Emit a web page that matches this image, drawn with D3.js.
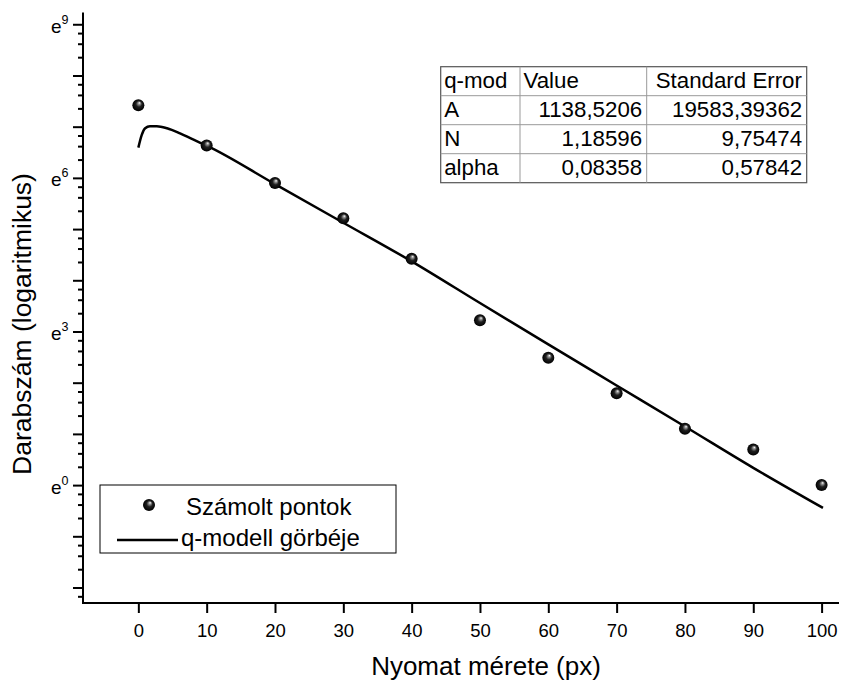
<!DOCTYPE html>
<html>
<head>
<meta charset="utf-8">
<script src="https://cdn.jsdelivr.net/npm/d3@7"></script>
<style>
  body { margin: 0; background: #fff; }
  text { font-family: "Liberation Sans", Arial, sans-serif; fill: #000; }
</style>
</head>
<body>
<svg id="chart" width="867" height="683"></svg>
<script>
// Measured particle counts per print size
const sizes = [0, 10, 20, 30, 40, 50, 60, 70, 80, 90, 100];
const counts = [1670, 760, 365, 183, 83, 25, 12, 6, 3, 2, 1];

// q-model fitted curve, sampled
const fitX = [0, 0.5, 1, 1.7, 2.7, 4.2, 6.1, 8, 10, 20, 30, 40, 50, 60, 70, 80, 90, 100.2];
const fitY = [728, 934, 1064, 1108, 1108, 1064, 963, 854, 757, 357, 168, 79, 35, 15.6, 7.0, 3.14, 1.40, 0.64];

// Fit parameter table
const tableHeader = ["q-mod", "Value", "Standard Error"];
const paramNames = ["A", "N", "alpha"];
const paramValues = ["1138,5206", "1,18596", "0,08358"];
const paramErrors = ["19583,39362", "9,75474", "0,57842"];

// Axis ticks
const xTicks = [0, 10, 20, 30, 40, 50, 60, 70, 80, 90, 100];
const yMajorExp = [-2, -1, 0, 1, 2, 3, 4, 5, 6, 7, 8, 9];
const yLabelExp = [0, 3, 6, 9];

const legendLabels = ["Számolt pontok", "q-modell görbéje"];
const xTitle = "Nyomat mérete (px)";
const yTitle = "Darabszám (logaritmikus)";

const svg = d3.select("#chart");

const x = d3.scaleLinear().domain([-8.1, 102.4]).range([83, 838]);
const y = d3.scaleLog().domain([0.1, 10000]).range([603, 13.5]);

// Sphere-like marker fill
const defs = svg.append("defs");
const grad = defs.append("radialGradient")
  .attr("id", "ball").attr("cx", "0.5").attr("cy", "0.5").attr("r", "0.5")
  .attr("fx", "0.6").attr("fy", "0.3");
grad.append("stop").attr("offset", "0%").attr("stop-color", "#ffffff");
grad.append("stop").attr("offset", "18%").attr("stop-color", "#9a9a9a");
grad.append("stop").attr("offset", "50%").attr("stop-color", "#202020");
grad.append("stop").attr("offset", "100%").attr("stop-color", "#000000");

// Y axis: major ticks at integer powers of e, minor ticks linearly inside each e-decade
const E = Math.E;
const yMajor = yMajorExp.map(n => Math.exp(n));
const yMinor = [];
for (let n = -3; n <= 9; n++) {
  for (let k = 1; k <= 3; k++) {
    const v = Math.exp(n) * (1 + k * (E - 1) / 4);
    if (v >= 0.1 && v <= 10000) yMinor.push(v);
  }
}

const gY = svg.append("g").attr("transform", "translate(83,0)");
gY.call(d3.axisLeft(y).tickValues(yMajor).tickSize(10).tickSizeOuter(0).tickFormat(""));
const gYm = svg.append("g").attr("transform", "translate(83,0)");
gYm.call(d3.axisLeft(y).tickValues(yMinor).tickSize(5).tickSizeOuter(0).tickFormat(""));
[gY, gYm].forEach(g => {
  g.select(".domain").remove();
  g.selectAll(".tick line").attr("stroke", "#000").attr("stroke-width", 2);
});

// Y labels e^n
yLabelExp.forEach(n => {
  const t = svg.append("text")
    .attr("x", 68.5)
    .attr("y", y(Math.exp(n)) + 8.5)
    .attr("text-anchor", "end");
  t.append("tspan").attr("font-size", 19).text("e");
  t.append("tspan").attr("font-size", 12.5).attr("dy", -9).text(n);
});

// X axis
const gX = svg.append("g").attr("transform", "translate(0,603)");
gX.call(d3.axisBottom(x).tickValues(xTicks).tickSize(10).tickSizeOuter(0).tickPadding(11).tickFormat(d3.format("d")));
gX.select(".domain").remove();
gX.selectAll(".tick line").attr("stroke", "#000").attr("stroke-width", 2);
gX.selectAll(".tick text").attr("font-size", 18.5).attr("font-family", "Liberation Sans, Arial, sans-serif").attr("fill", "#000");

// Axis lines (left and bottom)
svg.append("path")
  .attr("d", `M${x.range()[0]},${y.range()[1]} V${y.range()[0]} H${x.range()[1]}`)
  .attr("fill", "none").attr("stroke", "#000").attr("stroke-width", 2)
  .attr("stroke-linecap", "square");

// Axis titles
svg.append("text")
  .attr("x", 486).attr("y", 675)
  .attr("text-anchor", "middle").attr("font-size", 26)
  .text(xTitle);
svg.append("text")
  .attr("transform", "translate(31,324) rotate(-90)")
  .attr("text-anchor", "middle").attr("font-size", 26.5)
  .text(yTitle);

// Fitted curve
const fitData = fitX.map((v, i) => [v, fitY[i]]);
svg.append("path")
  .datum(fitData)
  .attr("d", d3.line().x(d => x(d[0])).y(d => y(d[1])).curve(d3.curveMonotoneX))
  .attr("fill", "none").attr("stroke", "#000").attr("stroke-width", 2.5);

// Data points
svg.append("g").selectAll("circle")
  .data(sizes.map((s, i) => [s, counts[i]]))
  .join("circle")
  .attr("cx", d => x(d[0])).attr("cy", d => y(d[1]))
  .attr("r", 6).attr("fill", "url(#ball)");

// Parameter table
const colX = [440.7, 520, 646.7, 806.7];
const rowTop = 66.7, rowH = 29;
const rows = [tableHeader].concat(paramNames.map((n, i) => [n, paramValues[i], paramErrors[i]]));
const tbl = svg.append("g");
tbl.append("rect")
  .attr("x", colX[0]).attr("y", rowTop)
  .attr("width", colX[3] - colX[0]).attr("height", rowH * rows.length)
  .attr("fill", "#fff").attr("stroke", "#555").attr("stroke-width", 1.2);
for (let r = 1; r < rows.length; r++) {
  tbl.append("line")
    .attr("x1", colX[0]).attr("x2", colX[3])
    .attr("y1", rowTop + r * rowH).attr("y2", rowTop + r * rowH)
    .attr("stroke", "#999").attr("stroke-width", 1);
}
for (let c = 1; c < 3; c++) {
  tbl.append("line")
    .attr("x1", colX[c]).attr("x2", colX[c])
    .attr("y1", rowTop).attr("y2", rowTop + rowH * rows.length)
    .attr("stroke", "#999").attr("stroke-width", 1);
}
rows.forEach((row, r) => {
  row.forEach((cell, c) => {
    const header = r === 0 || c === 0;
    const pad = (r === 0 && c === 2) ? 9 : 3.5;
    tbl.append("text")
      .attr("x", header ? colX[c] + pad : colX[c + 1] - 4.5)
      .attr("y", rowTop + r * rowH + 21.6)
      .attr("text-anchor", header ? "start" : "end")
      .attr("font-size", 22.3)
      .text(cell);
  });
});

// Legend
const lg = svg.append("g");
lg.append("rect")
  .attr("x", 100).attr("y", 485).attr("width", 296).attr("height", 68)
  .attr("fill", "#fff").attr("stroke", "#000").attr("stroke-width", 1);
lg.append("circle").attr("cx", 149).attr("cy", 505).attr("r", 6).attr("fill", "url(#ball)");
lg.append("line").attr("x1", 117).attr("x2", 178).attr("y1", 540).attr("y2", 540)
  .attr("stroke", "#000").attr("stroke-width", 2.5);
lg.append("text").attr("x", 186).attr("y", 515).attr("font-size", 24).text(legendLabels[0]);
lg.append("text").attr("x", 181).attr("y", 546).attr("font-size", 24).text(legendLabels[1]);
</script>
</body>
</html>
